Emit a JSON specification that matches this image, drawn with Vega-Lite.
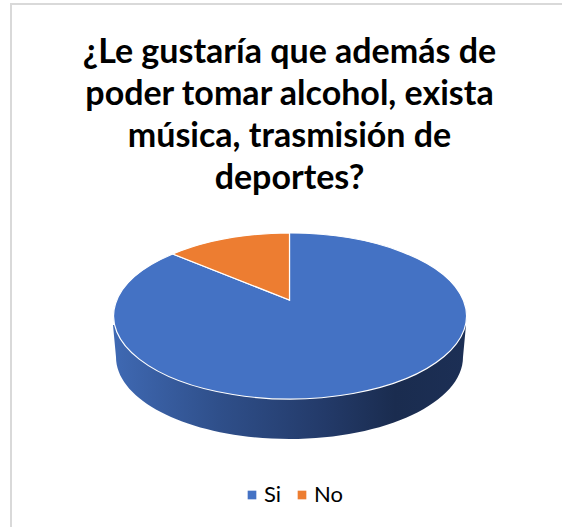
{
  "$schema": "https://vega.github.io/schema/vega-lite/v6.json",
  "width": 557,
  "height": 624,
  "autosize": "none",
  "padding": {"left": 11, "top": 4, "right": 0, "bottom": 0},
  "background": "#ffffff",
  "view": {"stroke": "#d9d9d9", "strokeWidth": 2, "fill": "#ffffff"},
  "title": {
    "text": ["¿Le gustaría que además de", "poder tomar alcohol, exista", "música, trasmisión de", "deportes?"],
    "font": "Lato",
    "fontSize": 34,
    "fontWeight": "bold",
    "lineHeight": 42,
    "color": "#000000",
    "anchor": "middle",
    "orient": "top",
    "offset": -192
  },
  "data": {
    "values": [
      {"respuesta": "Si", "valor": 88},
      {"respuesta": "No", "valor": 12}
    ]
  },
  "layer": [
    {
      "mark": {"type": "point", "filled": true, "size": 0, "opacity": 1},
      "encoding": {
        "color": {
          "field": "respuesta",
          "type": "nominal",
          "scale": {"domain": ["Si", "No"], "range": ["#4472c4", "#ed7d31"]},
          "legend": {
            "title": null,
            "orient": "none",
            "direction": "horizontal",
            "legendX": 230,
            "legendY": 480,
            "symbolType": "square",
            "symbolSize": 75,
            "symbolStrokeWidth": 0,
            "labelFont": "Lato",
            "labelFontSize": 22,
            "labelColor": "#000000",
            "columnPadding": 9,
            "labelOffset": 1
          }
        }
      }
    },
    {
      "transform": [{"filter": "datum.respuesta === 'Si'"}],
      "mark": {
        "type": "point",
        "filled": true,
        "size": 4,
        "opacity": 1,
        "shape": "M-176.5,9 L-173.5,41 A173.5,82 0 0 0 173.5,41 L176.5,9 Z",
        "fill": {
          "x1": 0, "y1": 0, "x2": 1, "y2": 0,
          "gradient": "linear",
          "stops": [
            {"offset": 0, "color": "#3f69b3"},
            {"offset": 0.3, "color": "#2f4f8a"},
            {"offset": 0.6, "color": "#233a69"},
            {"offset": 0.8, "color": "#1a2c4f"},
            {"offset": 1, "color": "#1c2f55"}
          ]
        }
      }
    },
    {
      "transform": [{"filter": "datum.respuesta === 'Si'"}],
      "mark": {
        "type": "point",
        "filled": true,
        "size": 4,
        "opacity": 1,
        "stroke": "#ffffff",
        "strokeWidth": 1.2,
        "shape": "M0,-16 L0,-83 A176.5,83 0 1 1 -116.8,-62 Z"
      },
      "encoding": {
        "fill": {
          "field": "respuesta",
          "type": "nominal",
          "scale": {"domain": ["Si", "No"], "range": ["#4472c4", "#ed7d31"]},
          "legend": null
        }
      }
    },
    {
      "transform": [{"filter": "datum.respuesta === 'No'"}],
      "mark": {
        "type": "point",
        "filled": true,
        "size": 4,
        "opacity": 1,
        "stroke": "#ffffff",
        "strokeWidth": 1.2,
        "shape": "M0,-16 L-116.8,-62 A176.5,83 0 0 1 0,-83 Z"
      },
      "encoding": {
        "fill": {
          "field": "respuesta",
          "type": "nominal",
          "scale": {"domain": ["Si", "No"], "range": ["#4472c4", "#ed7d31"]},
          "legend": null
        }
      }
    }
  ]
}
